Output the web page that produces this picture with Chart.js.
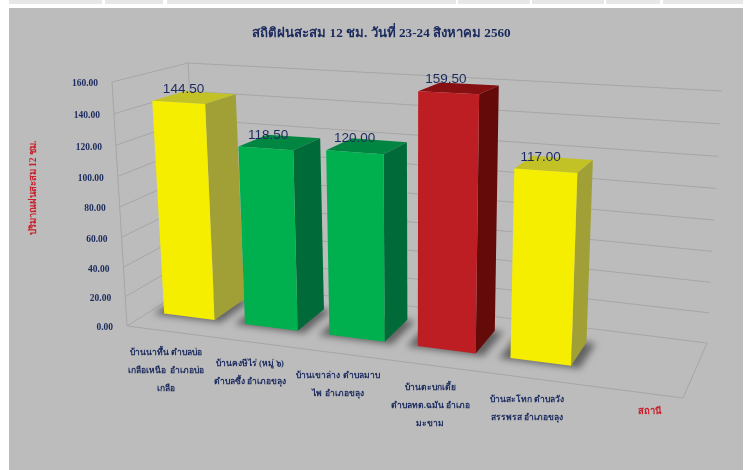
<!DOCTYPE html>
<html>
<head>
<meta charset="utf-8">
<script src="https://cdn.jsdelivr.net/npm/chart.js@4"></script>
<style>
  body { margin: 0; background: #fff; }
  #wrap { position: relative; width: 745px; height: 470px; overflow: hidden; }
  #panel { position: absolute; left: 9px; top: 8px; width: 734px; height: 462px; background: #bcbcbc; }
  .cell { position: absolute; top: 0; height: 4px; background: #e7e7e7; }
  canvas { position: absolute; left: 0; top: 0; filter: blur(0.3px); }
</style>
</head>
<body>
<div id="wrap">
  <div class="cell" style="left:9px;width:93px"></div>
  <div class="cell" style="left:105px;width:58px"></div>
  <div class="cell" style="left:167px;width:289px"></div>
  <div class="cell" style="left:458px;width:72px"></div>
  <div class="cell" style="left:532px;width:72px"></div>
  <div class="cell" style="left:606px;width:54px"></div>
  <div class="cell" style="left:663px;width:80px"></div>
  <div id="panel"></div>
  <canvas id="chart" width="745" height="470"></canvas>
</div>
<script>
// Chart data
var categories = [
  ['บ้านนาทึ้น ตำบลบ่อ', 'เกลือเหนือ  อำเภอบ่อ', 'เกลือ'],
  ['บ้านคงษีไร่ (หมู่ ๖)', 'ตำบลซึ้ง อำเภอขลุง'],
  ['บ้านเขาล่าง ตำบลมาบ', 'ไพ อำเภอขลุง'],
  ['บ้านตะบกเตี้ย', 'ตำบลทต.ฉมัน อำเภอ', 'มะขาม'],
  ['บ้านสะโทก ตำบลวัง', 'สรรพรส อำเภอขลุง'],
  ''
];
var rainfall = [144.5, 118.5, 120, 159.5, 117];
var chartTitle = 'สถิติฝนสะสม 12 ชม. วันที่ 23-24 สิงหาคม 2560';
var yTitle = 'ปริมาณฝนสะสม 12 ชม.';
var xTitle = 'สถานี';

var frontColors = ['#f6ee00', '#00b04f', '#00b04f', '#bd1e23', '#f6ee00'];
var topColors = ['#c2c125', '#008640', '#008640', '#861011', '#c2c125'];
var sideColors = ['#a0a036', '#006b38', '#006b38', '#640b0a', '#a0a036'];

var navy = '#1b2a5e';
var red = '#c8202c';
var gridColor = '#a6a6a6';

// corners of the 3D box on the page: [u, v, w] = along x, up, into the page
var box = {
  frontBottomLeft: [127, 326], frontBottomRight: [683, 398],
  frontTopLeft: [112, 82], frontTopRight: [698, 111],
  backBottomLeft: [200, 280], backBottomRight: [707, 343],
  backTopLeft: [188, 63], backTopRight: [722, 91]
};
var perspectiveX = 1.15;
var perspectiveY = 1.05;
var barFront = 0.31;
var barBack = 0.75;

function lerp(a, b, t) {
  return [a[0] + (b[0] - a[0]) * t, a[1] + (b[1] - a[1]) * t];
}

function project(u, v, w) {
  var pu = u / (perspectiveX + (1 - perspectiveX) * u);
  var pv = v / (perspectiveY + (1 - perspectiveY) * v);
  var bottomFront = lerp(box.frontBottomLeft, box.frontBottomRight, pu);
  var bottomBack = lerp(box.backBottomLeft, box.backBottomRight, pu);
  var topFront = lerp(box.frontTopLeft, box.frontTopRight, pu);
  var topBack = lerp(box.backTopLeft, box.backTopRight, pu);
  return lerp(lerp(bottomFront, bottomBack, w), lerp(topFront, topBack, w), pv);
}

function polygon(ctx, pts, color) {
  ctx.fillStyle = color;
  ctx.beginPath();
  pts.forEach(function (p, i) {
    if (i === 0) ctx.moveTo(p[0], p[1]);
    else ctx.lineTo(p[0], p[1]);
  });
  ctx.closePath();
  ctx.fill();
}

function line(ctx, a, b) {
  ctx.beginPath();
  ctx.moveTo(a[0], a[1]);
  ctx.lineTo(b[0], b[1]);
  ctx.stroke();
}

// normalise a bar element to the flat plot area
function barBox(chart, el) {
  var area = chart.chartArea;
  return {
    u0: (el.x - el.width / 2 - area.left) / area.width,
    u1: (el.x + el.width / 2 - area.left) / area.width,
    v: (area.bottom - el.y) / area.height
  };
}

var perspectivePlugin = {
  id: 'perspective',
  beforeDatasetsDraw: function (chart) {
    var ctx = chart.ctx;
    var y = chart.scales.y;
    ctx.save();
    ctx.strokeStyle = gridColor;
    ctx.lineWidth = 1;
    y.ticks.forEach(function (tick, i) {
      var v = (chart.chartArea.bottom - y.getPixelForTick(i)) / chart.chartArea.height;
      line(ctx, project(0, v, 0), project(0, v, 1));
      line(ctx, project(0, v, 1), project(1, v, 1));
    });
    line(ctx, project(0, 0, 0), project(0, 1, 0));
    line(ctx, project(0, 0, 1), project(0, 1, 1));
    line(ctx, project(0, 0, 0), project(1, 0, 0));
    line(ctx, project(1, 0, 0), project(1, 0, 1));
    ctx.restore();
  },
  beforeDatasetDraw: function (chart, args) {
    var ctx = chart.ctx;
    var bars = args.meta.data;
    // floor shadows first so no bar gets covered by one
    ctx.save();
    ctx.filter = 'blur(3.5px)';
    bars.forEach(function (el) {
      var b = barBox(chart, el);
      polygon(ctx, [
        project(b.u0 - 0.018, 0, barFront - 0.03),
        project(b.u1 + 0.016, 0, barFront - 0.03),
        project(b.u1 + 0.016, 0, barBack),
        project(b.u0 - 0.018, 0, barBack)
      ], 'rgba(60,60,60,0.7)');
    });
    ctx.restore();
    bars.forEach(function (el, i) {
      var b = barBox(chart, el);
      var fbl = project(b.u0, 0, barFront), fbr = project(b.u1, 0, barFront);
      var ftl = project(b.u0, b.v, barFront), ftr = project(b.u1, b.v, barFront);
      var bbr = project(b.u1, 0, barBack);
      var btl = project(b.u0, b.v, barBack), btr = project(b.u1, b.v, barBack);
      polygon(ctx, [ftl, ftr, btr, btl], topColors[i]);
      polygon(ctx, [fbr, ftr, btr, bbr], sideColors[i]);
      polygon(ctx, [fbl, fbr, ftr, ftl], frontColors[i]);
    });
    return false;
  },
  afterDatasetsDraw: function (chart) {
    var ctx = chart.ctx;
    var area = chart.chartArea;
    var x = chart.scales.x;
    var y = chart.scales.y;
    ctx.save();
    ctx.textBaseline = 'middle';

    // value labels above the front top edge of each bar
    ctx.font = '13.5px "Liberation Sans"';
    ctx.fillStyle = navy;
    ctx.textAlign = 'center';
    chart.getDatasetMeta(0).data.forEach(function (el, i) {
      var b = barBox(chart, el);
      var p = project((b.u0 + b.u1) / 2, b.v, barFront);
      ctx.fillText(rainfall[i].toFixed(2), p[0] + 5 - i * 2.5, p[1] - 13.5);
    });

    // value axis ticks on the front edge of the left wall
    ctx.font = 'bold 9.5px "Liberation Serif"';
    ctx.textAlign = 'right';
    y.ticks.forEach(function (tick, i) {
      var p = project(0, (area.bottom - y.getPixelForTick(i)) / area.height, 0);
      ctx.fillText(tick.value.toFixed(2), p[0] - 14, p[1] + 2);
    });

    // category labels under the front floor edge
    ctx.font = 'bold 8.5px "Liberation Serif", "Noto Sans"';
    ctx.textAlign = 'center';
    categories.forEach(function (label, i) {
      if (!label) return;
      var p = project((x.getPixelForValue(i) - area.left) / area.width, 0, 0);
      label.forEach(function (text, n) {
        ctx.fillText(text, p[0] - 2, p[1] + 22 + n * 18);
      });
    });

    // axis titles
    ctx.font = 'bold 9.5px "Liberation Serif", "Noto Sans"';
    ctx.fillStyle = red;
    ctx.fillText(xTitle, 649, 412);
    ctx.translate(34, 188);
    ctx.rotate(-Math.PI / 2);
    ctx.fillText(yTitle, 0, 0);
    ctx.restore();
  }
};

var chart = new Chart(document.getElementById('chart').getContext('2d'), {
  type: 'bar',
  data: {
    labels: categories,
    datasets: [{
      data: rainfall,
      backgroundColor: frontColors,
      barPercentage: 0.63,
      categoryPercentage: 1
    }]
  },
  plugins: [perspectivePlugin],
  options: {
    responsive: false,
    animation: false,
    layout: { padding: { left: 18, top: 26 } },
    plugins: {
      legend: { display: false },
      tooltip: { enabled: false },
      title: {
        display: true,
        text: chartTitle,
        color: navy,
        font: { family: '"Liberation Serif", "Noto Sans"', size: 13.2, weight: 'bold' },
        padding: 0
      }
    },
    scales: {
      x: { display: false },
      y: { display: false, min: 0, max: 160, ticks: { stepSize: 20 } }
    }
  }
});
</script>
</body>
</html>
